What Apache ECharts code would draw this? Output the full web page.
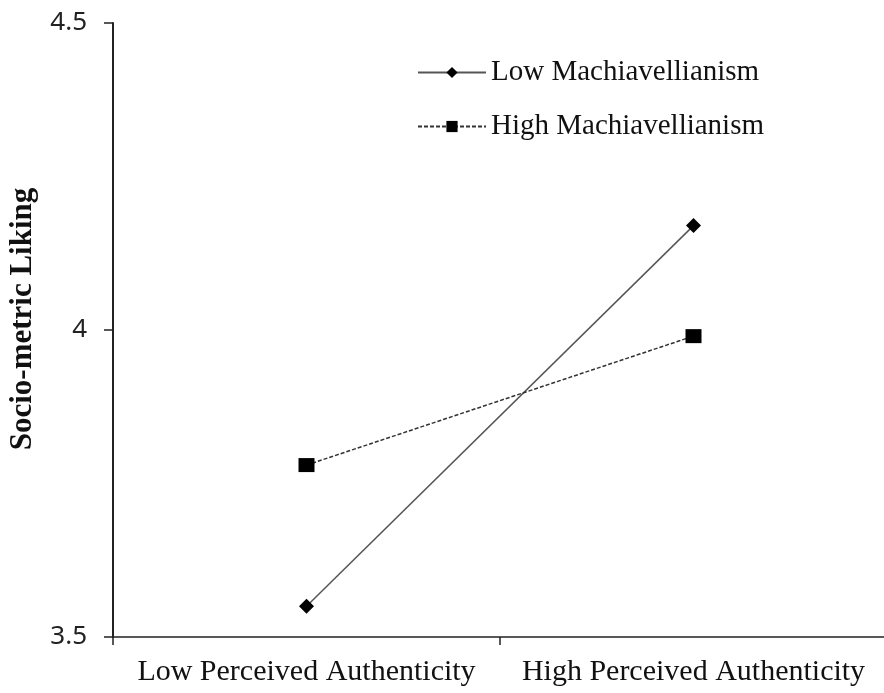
<!DOCTYPE html>
<html>
<head>
<meta charset="utf-8">
<script src="https://cdn.jsdelivr.net/npm/echarts@6/dist/echarts.min.js"></script>
<style>
  html, body { margin: 0; padding: 0; background: #fff; }
  #chart { width: 884px; height: 693px; }
</style>
</head>
<body>
<div id="chart"></div>
<script>
// Interaction plot: liking by perceived authenticity and Machiavellianism
const categories = ['Low Perceived Authenticity', 'High Perceived Authenticity'];
const lowMach = [3.55, 4.17];
const highMach = [3.78, 3.99];
const yTicks = [3.5, 4, 4.5];

const serif = '"Liberation Serif", "Times New Roman", serif';
const sans = '"Noto Sans", "Open Sans", sans-serif';

const chart = echarts.init(document.getElementById('chart'));
chart.setOption({
  animation: false,
  backgroundColor: '#fff',
  grid: { left: 113, right: -3, top: 23, bottom: 56, containLabel: false, outerBoundsMode: 'none' },
  legend: {
    top: 53,
    left: 412,
    orient: 'vertical',
    itemWidth: 68,
    itemHeight: 14,
    itemGap: 25,
    textStyle: { fontFamily: serif, fontSize: 29, color: '#111' },
    data: ['Low Machiavellianism', 'High Machiavellianism']
  },
  xAxis: {
    type: 'category',
    data: categories,
    boundaryGap: true,
    axisLine: { lineStyle: { color: '#222', width: 1.5 } },
    axisTick: { show: true, interval: 0, length: 8, lineStyle: { color: '#222', width: 1.5 } },
    axisLabel: { interval: 0, hideOverlap: false, fontFamily: serif, fontSize: 30, color: '#111', margin: 20 }
  },
  yAxis: {
    type: 'value',
    min: 3.5,
    max: 4.5,
    interval: 0.5,
    name: 'Socio-metric Liking',
    nameLocation: 'middle',
    nameGap: 75,
    nameTextStyle: {
      fontFamily: serif, fontSize: 31, fontWeight: 'bold', color: '#111',
      padding: [0, 0, 0, 22]
    },
    splitLine: { show: false },
    axisLine: { show: true, lineStyle: { color: '#222', width: 2 } },
    axisTick: { show: true, length: 9, lineStyle: { color: '#222', width: 1.5 } },
    axisLabel: {
      fontFamily: sans, fontSize: 26, color: '#222', margin: 26,
      formatter: v => (yTicks.includes(v) ? String(v) : '')
    }
  },
  series: [
    {
      name: 'Low Machiavellianism',
      type: 'line',
      data: lowMach,
      symbol: 'diamond',
      symbolSize: [15, 15],
      itemStyle: { color: '#000' },
      lineStyle: { color: '#555', width: 1.5, type: 'solid' }
    },
    {
      name: 'High Machiavellianism',
      type: 'line',
      data: highMach,
      symbol: 'rect',
      symbolSize: [16, 14],
      itemStyle: { color: '#000' },
      lineStyle: { color: '#333', width: 1.5, type: [4, 2] }
    }
  ]
});
</script>
</body>
</html>
